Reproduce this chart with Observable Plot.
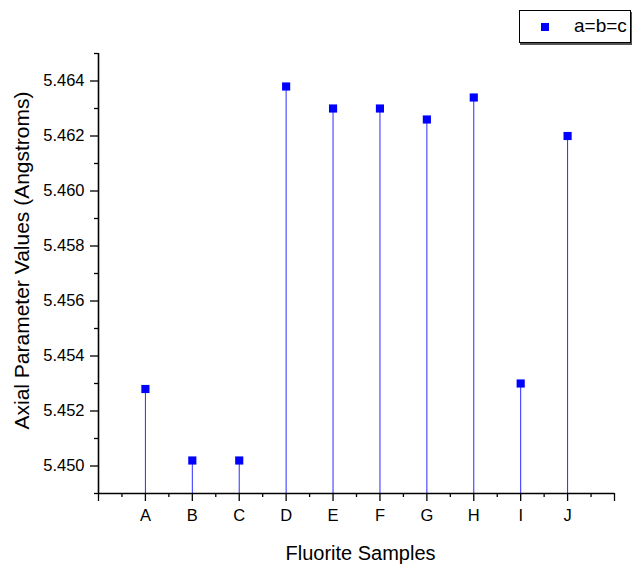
<!DOCTYPE html>
<html><head><meta charset="utf-8">
<script src="https://cdn.jsdelivr.net/npm/d3@7"></script>
<script src="https://cdn.jsdelivr.net/npm/@observablehq/plot@0.6"></script>
<style>
body{margin:0;background:#fff;font-family:"Liberation Sans",Arial,sans-serif;}
#wrap{position:relative;width:632px;height:564px;overflow:hidden;}
#legend{position:absolute;left:519px;top:10px;width:110px;height:31px;border:1px solid #000;box-shadow:1px 2px 0 #555;background:#fff;}
#legend .sw{position:absolute;left:21px;top:12px;width:8px;height:8px;background:#0000ff;}
#legend .lb{position:absolute;left:54px;top:4px;font-size:19px;line-height:22px;color:#000;}
</style></head><body>
<div id="wrap"></div>
<script>
const samples = ["A", "B", "C", "D", "E", "F", "G", "H", "I", "J"];
const values = [5.4528, 5.4502, 5.4502, 5.4638, 5.4630, 5.4630, 5.4626, 5.4634, 5.4530, 5.4620];
const yMajorTicks = [5.450, 5.452, 5.454, 5.456, 5.458, 5.460, 5.462, 5.464];
const yMinorTicks = [5.449, 5.451, 5.453, 5.455, 5.457, 5.459, 5.461, 5.463, 5.465];
const seriesName = "a=b=c";
const xTitle = "Fluorite Samples";
const yTitle = "Axial Parameter Values (Angstroms)";

const yMin = 5.449, yMax = 5.465;
const data = samples.map((s, i) => ({sample: s, pos: i + 1, value: values[i]}));
const xMajor = d3.range(0, samples.length + 2);
const xMinor = d3.range(0.5, samples.length + 1, 1);

const chart = Plot.plot({
  width: 632,
  height: 564,
  marginLeft: 98,
  marginRight: 18,
  marginTop: 53,
  marginBottom: 71,
  style: {fontFamily: "Liberation Sans, Arial, sans-serif", fontSize: "16px", background: "#fff", color: "#000"},
  x: {domain: [0, samples.length + 1]},
  y: {domain: [yMin, yMax]},
  marks: [
    Plot.ruleX(data, {x: "pos", y1: yMin, y2: "value", stroke: "#2b2bff", strokeWidth: 1}),
    Plot.dot(data, {x: "pos", y: "value", symbol: "square", r: 4.6, fill: "#0000ff", stroke: null}),
    Plot.axisY({ticks: yMajorTicks, tickSize: 8, tickPadding: 6, tickFormat: d3.format(".3f"), fontSize: 16.5, label: null, strokeWidth: 1.3}),
    Plot.axisY({ticks: yMinorTicks, tickSize: 4, tickFormat: () => "", label: null, strokeWidth: 1.3}),
    Plot.axisX({ticks: xMajor, tickSize: 8, tickPadding: 8, tickFormat: d => samples[d - 1] ?? "", fontSize: 16.5, label: null, strokeWidth: 1.3}),
    Plot.axisX({ticks: xMinor, tickSize: 4, tickFormat: () => "", label: null, strokeWidth: 1.3}),
    Plot.ruleX([0], {stroke: "#000", strokeWidth: 1.6}),
    Plot.ruleY([yMin], {stroke: "#000", strokeWidth: 1.6}),
    Plot.text([yTitle], {frameAnchor: "left", dx: -76, dy: -13, rotate: -90, textAnchor: "middle", lineAnchor: "middle", fontSize: 21, fill: "#000"}),
    Plot.text([xTitle], {frameAnchor: "bottom", dx: 4, dy: 60, textAnchor: "middle", lineAnchor: "middle", fontSize: 20, fill: "#000"})
  ]
});
const wrap = document.getElementById("wrap");
wrap.appendChild(chart);
const legend = document.createElement("div");
legend.id = "legend";
legend.innerHTML = `<div class="sw"></div><div class="lb"></div>`;
legend.querySelector(".lb").textContent = seriesName;
wrap.appendChild(legend);
</script>
</body></html>
